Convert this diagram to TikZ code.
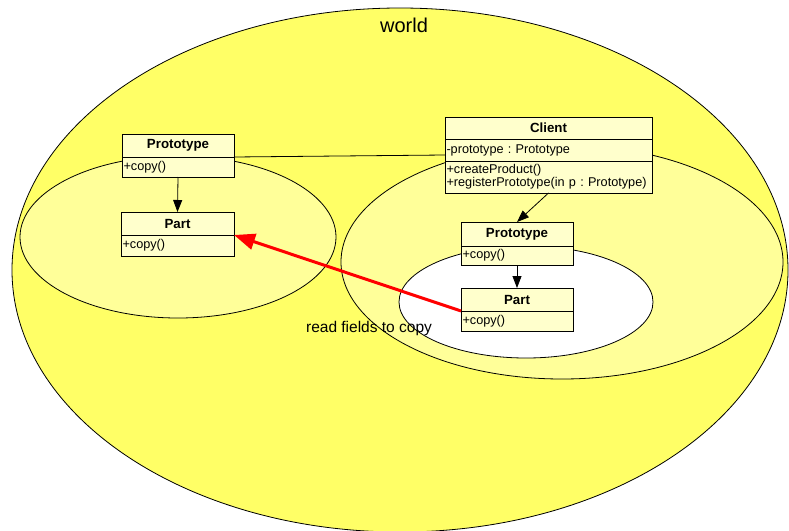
\documentclass[tikz,border=0pt]{standalone}
\usepackage{fontspec}
\setmainfont{Liberation Sans}
\usetikzlibrary{arrows.meta}
\definecolor{worldfill}{HTML}{FFFF66}
\definecolor{zonefill}{HTML}{FFFF99}
\definecolor{boxfill}{HTML}{FFFFCC}
\definecolor{linkred}{HTML}{FF0000}
\frenchspacing

\begin{document}
\begin{tikzpicture}[x=1pt,y=-1pt,
  every node/.style={inner sep=0pt, outer sep=0pt},
  classhead/.style={draw=black, line width=0.8pt, fill=boxfill, anchor=north west,
    font=\fontsize{13.3}{14}\bfseries\selectfont, align=center},
  classbody/.style={draw=black, line width=0.8pt, fill=boxfill, anchor=north west,
    font=\fontsize{12.7}{13}\selectfont, align=left, inner xsep=1.5pt},
  region/.style={draw=black, line width=0.8pt},
  dep/.style={-{Triangle[length=12pt,width=9pt]}, line width=0.8pt},
  assoc/.style={line width=0.8pt},
  readarrow/.style={draw=linkred, line width=3pt, -{Triangle[length=21pt,width=16pt]}},
]
\useasboundingbox (0,0) rectangle (789,530);

% nested regions
\draw[region, fill=worldfill] (400,270) ellipse [x radius=388pt, y radius=262pt];
\draw[region, fill=zonefill] (178,237) ellipse [x radius=158pt, y radius=81pt];
\draw[region, fill=zonefill] (562,262) ellipse [x radius=221pt, y radius=117pt];
\draw[region, fill=white] (526,302) ellipse [x radius=127pt, y radius=56pt];

\node[font=\fontsize{20}{22}\selectfont] (worldLabel) at (404,25) {world};

% left prototype and part
\node[classhead, minimum width=112pt, minimum height=23pt] (protoLhead) at (122,134) {Prototype};
\node[classbody, minimum width=112pt, text width=109pt, minimum height=20pt] (protoLbody) at (122,157) {+copy()};
\node[classhead, minimum width=113pt, minimum height=23pt] (partLhead) at (121,212) {Part};
\node[classbody, minimum width=113pt, text width=110pt, minimum height=21pt] (partLbody) at (121,235) {+copy()};

% client
\node[classhead, minimum width=207pt, minimum height=22pt] (clientHead) at (445,117) {Client};
\node[classbody, minimum width=207pt, text width=204pt, minimum height=22pt] (clientAttr) at (445,139) {-prototype : Prototype};
\node[classbody, minimum width=207pt, text width=204pt, minimum height=32pt] (clientOps) at (445,161) {+createProduct()\\+registerPrototype(in p : Prototype)};

% inner prototype and part
\node[classhead, minimum width=112pt, minimum height=24pt] (protoRhead) at (461,222) {Prototype};
\node[classbody, minimum width=112pt, text width=109pt, minimum height=19pt] (protoRbody) at (461,246) {+copy()};
\node[classhead, minimum width=112pt, minimum height=23pt] (partRhead) at (461,288) {Part};
\node[classbody, minimum width=112pt, text width=109pt, minimum height=20pt] (partRbody) at (461,311) {+copy()};

% connectors
\draw[assoc] (protoLhead.south east) -- ([yshift=-5pt]clientAttr.west);
\draw[dep] (protoLbody.south) -- (partLhead.north);
\draw[dep] (clientOps.south) -- (protoRhead.north);
\draw[dep] (protoRbody.south) -- (partRhead.north);
\draw[readarrow] (partRbody.north west) -- (partLbody.north east);

\node[font=\fontsize{15.5}{17}\selectfont] (readLabel) at (369,328) {read fields to copy};
\end{tikzpicture}
\end{document}
